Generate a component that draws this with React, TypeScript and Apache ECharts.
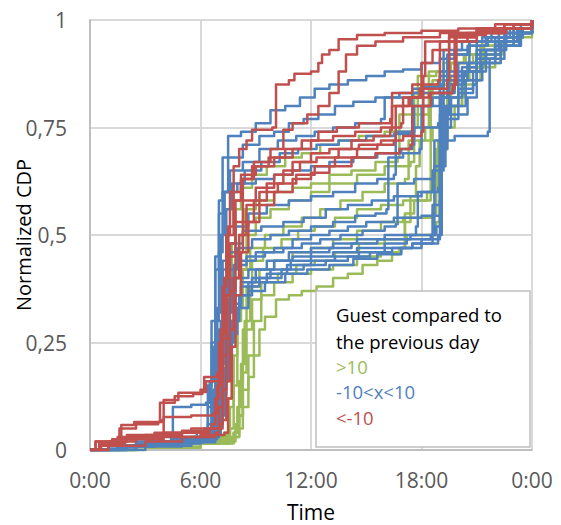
import React, { useEffect, useRef } from 'react';
import * as echarts from 'echarts';

const xTickLabels = ['0:00', '6:00', '12:00', '18:00', '0:00'];
const groupNames = ['>10', '-10<x<10', '<-10'];
const groupColors = ['#9BBB59', '#4F81BD', '#C0504D'];
const legendTitle = ['Guest compared to', 'the previous day'];

// ---- Green lines (>10) : [hour, normalized CDP]
const green1 = [[0,0],[1.5,0.01],[3.5,0.02],[5.5,0.03],[6.9,0.04],[7.1,0.1],[7.3,0.22],[7.5,0.36],[7.7,0.48],[7.9,0.56],[8.2,0.61],[8.8,0.64],[9.6,0.66],[10.6,0.68],[11.5,0.69],[12.5,0.71],[13.5,0.72],[14.6,0.73],[16,0.74],[17.6,0.75],[17.8,0.87],[18.8,0.88],[19.6,0.9],[20.4,0.92],[21.2,0.94],[22.2,0.95],[23.3,0.97],[24,1]];
const green2 = [[0,0],[2,0.01],[4.5,0.02],[6.5,0.03],[7.3,0.04],[7.5,0.12],[7.7,0.26],[7.9,0.4],[8.1,0.5],[8.4,0.56],[9,0.58],[10,0.6],[11,0.61],[12,0.62],[13,0.64],[14.2,0.65],[15.5,0.67],[16.7,0.68],[16.8,0.78],[18.4,0.8],[18.6,0.86],[19.2,0.9],[20.3,0.92],[21.3,0.95],[22.5,0.96],[23.4,0.98],[24,1]];
const green3 = [[0,0],[2.5,0.01],[5,0.02],[7,0.03],[7.6,0.05],[7.8,0.15],[8,0.3],[8.2,0.42],[8.5,0.5],[9,0.54],[9.8,0.56],[10.8,0.58],[12,0.6],[13,0.62],[14.5,0.64],[16,0.66],[17.4,0.67],[17.6,0.83],[18.5,0.85],[19.6,0.87],[20.5,0.89],[21.4,0.94],[22.6,0.96],[23.5,0.97],[24,1]];
const green4 = [[0,0],[2,0.01],[4,0.015],[6,0.025],[7.4,0.035],[7.6,0.1],[7.8,0.22],[8,0.33],[8.3,0.42],[8.7,0.47],[9.5,0.5],[10.5,0.52],[11.5,0.54],[12.5,0.56],[13.6,0.58],[14.8,0.6],[16,0.62],[17.1,0.63],[17.3,0.72],[18.2,0.75],[18.4,0.88],[19.5,0.9],[20.8,0.92],[22,0.95],[23.2,0.97],[24,1]];
const green5 = [[0,0],[3,0.01],[5.5,0.02],[7.5,0.03],[7.9,0.06],[8.1,0.16],[8.3,0.28],[8.5,0.38],[8.8,0.44],[9.4,0.47],[10.4,0.49],[11.3,0.51],[12.2,0.52],[13.3,0.54],[14.5,0.56],[15.8,0.57],[17,0.58],[18.3,0.6],[18.5,0.82],[19.5,0.86],[20.5,0.9],[21.5,0.92],[22.3,0.95],[23.3,0.97],[24,1]];
const green6 = [[0,0],[2.5,0.008],[5,0.015],[7,0.025],[7.8,0.04],[8,0.1],[8.2,0.2],[8.4,0.3],[8.7,0.38],[9.2,0.42],[10,0.44],[11,0.46],[12,0.47],[13.2,0.49],[14.5,0.51],[15.8,0.53],[17,0.54],[18.6,0.55],[18.8,0.7],[19.4,0.78],[19.6,0.86],[20.6,0.89],[21.3,0.92],[22.4,0.95],[23.2,0.97],[24,1]];
const green7 = [[0,0],[3,0.008],[6,0.02],[7.9,0.03],[8.1,0.08],[8.3,0.18],[8.5,0.28],[8.8,0.35],[9.3,0.39],[10.2,0.41],[11.2,0.43],[12.2,0.44],[13.3,0.46],[14.6,0.48],[16,0.49],[17.2,0.5],[18.8,0.53],[19,0.75],[19.8,0.8],[20.2,0.85],[21,0.89],[22,0.94],[23,0.96],[24,1]];
const green8 = [[0,0],[3,0.006],[6,0.015],[7.6,0.025],[7.8,0.04],[8.1,0.08],[8.3,0.14],[8.6,0.22],[8.9,0.3],[9.3,0.36],[10,0.39],[11,0.41],[12,0.42],[13.2,0.43],[14.5,0.45],[15.8,0.46],[16.9,0.47],[17.1,0.55],[17.6,0.58],[18.5,0.6],[18.9,0.72],[19.2,0.8],[20.2,0.86],[21.2,0.9],[22.3,0.94],[23.3,0.98],[24,1]];
const green9 = [[0,0],[3,0.005],[6,0.015],[7.8,0.03],[8.1,0.05],[8.3,0.1],[8.6,0.17],[8.9,0.22],[9.2,0.28],[9.5,0.31],[10.1,0.35],[10.8,0.36],[11.5,0.37],[12.3,0.38],[13.2,0.4],[14,0.41],[14.8,0.43],[15.6,0.44],[16.4,0.455],[16.8,0.47],[17.1,0.53],[17.4,0.59],[17.7,0.66],[17.9,0.72],[18.6,0.75],[19.4,0.82],[20.3,0.88],[21.2,0.92],[22.3,0.95],[23.3,0.97],[24,1]];

// ---- Blue lines (-10<x<10)
const blue1 = [[0,0],[1,0.008],[2.5,0.015],[4.5,0.025],[6.2,0.035],[6.4,0.1],[6.6,0.25],[6.8,0.42],[7,0.58],[7.2,0.68],[7.5,0.73],[8.2,0.74],[9,0.76],[9.8,0.79],[10.6,0.8],[11.4,0.82],[12.2,0.84],[13,0.85],[14,0.86],[15,0.87],[16,0.88],[17,0.885],[18,0.9],[19,0.91],[19.8,0.93],[20.6,0.95],[21.5,0.96],[22.5,0.97],[23.4,0.99],[24,1]];
const blue2 = [[0,0],[1.5,0.01],[3,0.02],[5,0.03],[6.4,0.04],[6.6,0.12],[6.8,0.3],[7,0.46],[7.2,0.6],[7.5,0.68],[8.3,0.71],[9.2,0.73],[10,0.74],[10.8,0.76],[11.6,0.77],[12.4,0.78],[13.3,0.8],[14.3,0.81],[15.5,0.82],[16.8,0.83],[18,0.845],[19.2,0.86],[19.4,0.92],[20.5,0.94],[21.5,0.96],[22.8,0.98],[24,1]];
const blue3 = [[0,0],[2,0.01],[4,0.02],[6,0.03],[6.5,0.04],[6.7,0.14],[6.9,0.32],[7.1,0.5],[7.3,0.6],[7.6,0.65],[8.3,0.67],[9.2,0.7],[10.2,0.72],[11.2,0.73],[12.2,0.74],[13.2,0.75],[14.4,0.76],[15.8,0.77],[16,0.82],[17.5,0.84],[19,0.85],[19.2,0.93],[20.2,0.95],[21.3,0.96],[22.6,0.98],[24,1]];
const blue4 = [[0,0],[1.5,0.008],[3.5,0.02],[5.5,0.03],[6.6,0.035],[6.8,0.12],[7,0.28],[7.2,0.44],[7.4,0.56],[7.7,0.62],[8.4,0.65],[9.3,0.67],[10.3,0.69],[11.3,0.7],[12.3,0.71],[13.5,0.72],[15,0.73],[16.5,0.735],[17.4,0.74],[17.5,0.83],[19,0.87],[20.4,0.88],[20.6,0.95],[21.8,0.97],[23,0.98],[24,1]];
const blue5 = [[0,0],[2,0.01],[4,0.018],[6.2,0.03],[6.6,0.04],[6.8,0.12],[7,0.24],[7.2,0.36],[7.5,0.46],[7.9,0.52],[8.6,0.55],[9.6,0.57],[10.8,0.58],[12,0.59],[13.2,0.6],[14.4,0.62],[15.6,0.63],[16.5,0.64],[16.6,0.74],[17.6,0.75],[18.9,0.76],[19,0.88],[20,0.9],[21,0.93],[22.2,0.96],[23.2,0.98],[24,1]];
const blue6 = [[0,0],[1,0.01],[2.5,0.02],[4.4,0.035],[4.5,0.1],[5.5,0.105],[6.3,0.11],[6.5,0.16],[6.7,0.24],[6.9,0.33],[7.2,0.42],[7.6,0.48],[8.3,0.51],[9.3,0.52],[10.5,0.53],[11.6,0.54],[12.8,0.56],[14,0.57],[15.3,0.58],[16.5,0.59],[18,0.6],[18.9,0.61],[19,0.78],[19.5,0.85],[20.3,0.88],[21.2,0.93],[22.2,0.95],[23.2,0.97],[24,1]];
const blue7 = [[0,0],[2,0.01],[4.5,0.02],[6.3,0.03],[6.7,0.04],[6.9,0.1],[7.1,0.2],[7.3,0.32],[7.6,0.42],[8,0.47],[8.8,0.49],[9.8,0.5],[10.8,0.51],[12,0.52],[13.2,0.53],[14.4,0.545],[15.5,0.55],[16.1,0.56],[16.2,0.68],[17,0.69],[17.9,0.7],[18,0.8],[19,0.82],[20,0.88],[21,0.91],[22,0.95],[23,0.97],[24,1]];
const blue8 = [[0,0],[2.5,0.01],[5,0.02],[6.5,0.03],[6.8,0.05],[7,0.12],[7.2,0.22],[7.4,0.32],[7.7,0.4],[8.1,0.44],[9,0.46],[10,0.47],[11,0.49],[12,0.5],[13,0.51],[14,0.52],[15,0.53],[16.5,0.54],[18,0.545],[19,0.55],[19.1,0.83],[19.8,0.86],[20.5,0.9],[21.5,0.93],[22.6,0.96],[23.5,0.98],[24,1]];
const blue9 = [[0,0],[2,0.01],[4.2,0.02],[6.1,0.03],[6.5,0.04],[6.7,0.1],[6.9,0.2],[7.1,0.3],[7.4,0.38],[7.8,0.43],[8.5,0.45],[9.5,0.46],[10.5,0.47],[11.5,0.48],[12.5,0.49],[13.6,0.5],[14.8,0.51],[16,0.52],[16.6,0.525],[16.7,0.62],[17.6,0.63],[18.6,0.65],[19.2,0.86],[20.2,0.89],[21,0.92],[22.3,0.95],[23.3,0.98],[24,1]];
const blue10 = [[0,0],[2,0.01],[4,0.015],[6,0.025],[6.6,0.035],[6.8,0.09],[7,0.18],[7.2,0.27],[7.5,0.35],[7.9,0.4],[8.6,0.42],[9.6,0.44],[10.8,0.46],[12,0.47],[13.2,0.48],[14.5,0.49],[16,0.5],[17.7,0.52],[17.8,0.6],[18.6,0.63],[18.7,0.72],[19.8,0.73],[21.6,0.74],[21.7,0.91],[22.5,0.94],[23.4,0.97],[24,1]];
const blue11 = [[0,0],[1.5,0.008],[3.5,0.016],[5.5,0.025],[6.9,0.035],[7.1,0.08],[7.3,0.16],[7.5,0.25],[7.8,0.33],[8.2,0.39],[9,0.42],[10,0.44],[11,0.45],[12,0.46],[13,0.47],[14.2,0.48],[15.6,0.49],[17.4,0.5],[18.8,0.52],[19,0.7],[19.3,0.8],[20,0.83],[20.8,0.85],[21,0.95],[22.2,0.97],[23.2,0.98],[24,1]];
const blue12 = [[0,0],[2.5,0.008],[5,0.018],[6.8,0.03],[7,0.06],[7.2,0.13],[7.4,0.21],[7.7,0.3],[8.1,0.36],[8.8,0.4],[9.8,0.42],[10.9,0.44],[12,0.45],[13.2,0.46],[14.5,0.47],[16,0.48],[17.2,0.49],[18.5,0.5],[18.6,0.57],[19,0.58],[19.1,0.77],[20,0.84],[20.8,0.88],[21.5,0.93],[22.5,0.96],[23.5,0.98],[24,1]];
const blue13 = [[0,0],[3,0.01],[5.5,0.02],[6.6,0.03],[6.8,0.07],[7,0.14],[7.2,0.22],[7.5,0.3],[7.9,0.36],[8.6,0.39],[9.6,0.41],[10.7,0.43],[12,0.44],[13.3,0.45],[14.6,0.46],[16,0.47],[17.5,0.48],[18.9,0.49],[19,0.75],[19.6,0.82],[20.2,0.88],[21,0.91],[22,0.96],[23,0.98],[24,1]];
const blue14 = [[0,0],[2,0.01],[4,0.02],[6.2,0.03],[6.4,0.06],[6.6,0.12],[6.8,0.2],[7.1,0.28],[7.5,0.34],[8.2,0.38],[9.2,0.4],[10.4,0.42],[11.6,0.43],[12.8,0.44],[14,0.45],[15.2,0.46],[16.4,0.47],[17.5,0.48],[18.6,0.5],[18.7,0.66],[19.3,0.7],[19.4,0.8],[20.4,0.86],[21.3,0.9],[22.3,0.94],[23.3,0.97],[24,1]];
const blue15 = [[0,0],[2.5,0.012],[5,0.022],[6.7,0.03],[6.9,0.05],[7.1,0.11],[7.3,0.19],[7.6,0.27],[8,0.33],[8.6,0.37],[9.5,0.39],[10.6,0.41],[11.8,0.42],[13,0.43],[14.3,0.445],[15.6,0.455],[16.9,0.47],[18,0.49],[18.9,0.5],[19.1,0.72],[19.4,0.78],[20.5,0.82],[21,0.9],[22,0.94],[23,0.97],[24,1]];
const blue16 = [[0,0],[1.5,0.01],[3.5,0.02],[5.8,0.04],[6.2,0.05],[6.4,0.15],[6.6,0.3],[6.8,0.45],[7,0.55],[7.3,0.6],[8,0.62],[9,0.63],[10,0.64],[11,0.65],[12,0.66],[13,0.67],[14.3,0.68],[15.6,0.69],[16.9,0.7],[17.5,0.71],[17.6,0.8],[18.6,0.82],[19.4,0.84],[19.5,0.92],[20.6,0.94],[21.6,0.96],[22.6,0.98],[24,1]];

// ---- Red lines (<-10)
const red1 = [[0,0],[0.3,0.02],[1.2,0.025],[2.5,0.03],[4,0.04],[5.5,0.05],[6.6,0.06],[6.8,0.12],[7,0.25],[7.2,0.38],[7.4,0.5],[7.6,0.6],[7.8,0.66],[8.1,0.7],[8.5,0.72],[8.8,0.745],[9.9,0.75],[10.1,0.85],[10.8,0.86],[11.1,0.875],[12,0.88],[12.4,0.9],[12.6,0.92],[13,0.93],[13.5,0.955],[14.5,0.965],[16,0.97],[18,0.975],[20,0.98],[22,0.99],[24,1]];
const red2 = [[0,0],[1,0.01],[3,0.02],[5,0.03],[6.8,0.04],[7,0.1],[7.2,0.22],[7.4,0.36],[7.6,0.48],[7.9,0.58],[8.3,0.63],[8.9,0.67],[9.8,0.7],[10.5,0.745],[11,0.76],[11.8,0.78],[12.4,0.8],[13,0.83],[13.5,0.88],[13.9,0.92],[14.5,0.94],[15.5,0.95],[17,0.96],[19,0.97],[21,0.98],[23,0.99],[24,1]];
const red3 = [[0,0],[0.5,0.01],[1.6,0.02],[1.7,0.058],[2.4,0.065],[3.9,0.07],[4,0.116],[4.8,0.133],[6,0.14],[6.2,0.17],[6.9,0.18],[7.1,0.28],[7.3,0.4],[7.5,0.5],[7.8,0.58],[8.2,0.63],[8.8,0.66],[9.7,0.68],[10.6,0.7],[11.5,0.72],[12.4,0.74],[13.4,0.75],[14.6,0.76],[16.3,0.77],[16.4,0.83],[17.5,0.85],[18.9,0.86],[19,0.95],[20.5,0.97],[22.5,0.98],[24,1]];
const red4 = [[0,0],[0.6,0.012],[1.5,0.015],[1.6,0.05],[2.5,0.06],[3.7,0.065],[3.8,0.11],[4.6,0.125],[5.6,0.13],[6.1,0.135],[6.3,0.16],[7,0.17],[7.2,0.26],[7.4,0.36],[7.6,0.45],[7.9,0.53],[8.3,0.58],[9,0.61],[10,0.64],[11,0.67],[12,0.69],[13,0.7],[14.2,0.72],[15.4,0.73],[16.3,0.745],[16.4,0.8],[17.3,0.82],[18.4,0.83],[19.7,0.84],[19.8,0.97],[21,0.98],[22.5,0.99],[24,1]];
const red5 = [[0,0],[1,0.015],[1.9,0.02],[2,0.035],[3.5,0.04],[5,0.045],[6.5,0.05],[7.2,0.07],[7.4,0.16],[7.6,0.28],[7.8,0.4],[8.1,0.5],[8.5,0.57],[9.2,0.6],[10.2,0.62],[11.2,0.64],[12.2,0.66],[13.3,0.68],[14.5,0.7],[15.6,0.71],[16.5,0.72],[16.6,0.8],[17.4,0.82],[17.9,0.84],[18,0.9],[18.6,0.93],[19.5,0.95],[21,0.97],[22.5,0.98],[24,1]];
const red6 = [[0,0],[0.3,0.02],[2,0.025],[4,0.03],[6,0.035],[7.3,0.04],[7.5,0.12],[7.7,0.24],[7.9,0.36],[8.2,0.46],[8.6,0.53],[9.2,0.57],[10,0.6],[11,0.63],[12,0.645],[13,0.66],[14.2,0.68],[15.5,0.69],[16.8,0.7],[17.4,0.71],[17.5,0.8],[18.5,0.83],[19.7,0.85],[19.9,0.96],[21,0.97],[22.6,0.98],[24,1]];
const red7 = [[0,0],[1,0.02],[2.5,0.03],[3.9,0.035],[4,0.077],[5.5,0.08],[6.7,0.085],[6.9,0.15],[7.1,0.27],[7.3,0.4],[7.5,0.52],[7.8,0.6],[8.2,0.64],[9,0.66],[10,0.68],[11,0.7],[12,0.72],[13.2,0.73],[14.4,0.74],[15.8,0.75],[16.9,0.76],[17,0.82],[18,0.84],[19.4,0.86],[19.5,0.96],[21,0.975],[22.5,0.99],[24,1]];
const red8 = [[0,0],[0.5,0.015],[1.5,0.03],[3,0.035],[5,0.04],[6.5,0.05],[7,0.06],[7.2,0.14],[7.4,0.26],[7.6,0.37],[7.9,0.46],[8.3,0.53],[8.9,0.58],[9.6,0.62],[10.5,0.65],[11.4,0.67],[12.3,0.68],[13.5,0.7],[14.6,0.71],[15.8,0.72],[17,0.73],[18,0.74],[18.1,0.87],[18.2,0.95],[19.5,0.965],[21.5,0.98],[23,0.99],[24,1]];

const greenLines = [green1, green2, green3, green4, green5, green6, green7, green8, green9];
const blueLines = [blue1, blue2, blue3, blue4, blue5, blue6, blue7, blue8, blue9, blue10, blue11, blue12, blue13, blue14, blue15, blue16];
const redLines = [red1, red2, red3, red4, red5, red6, red7, red8];

const FONT = '"Open Sans", "Noto Sans", sans-serif';

export default function App() {
  const ref = useRef<HTMLDivElement>(null);
  useEffect(() => {
    document.body.style.margin = '0';
    const chart = echarts.init(ref.current as HTMLDivElement, null, { renderer: 'svg' });
    const groups = [greenLines, blueLines, redLines];
    const series: any[] = [];
    groups.forEach((lines, gi) => {
      lines.forEach((pts) => {
        series.push({
          type: 'line',
          name: groupNames[gi],
          data: pts,
          step: 'end',
          showSymbol: false,
          symbol: 'none',
          silent: true,
          lineStyle: { width: 2.5, color: groupColors[gi], join: 'round' },
          itemStyle: { color: groupColors[gi] },
          emphasis: { disabled: true },
        });
      });
    });
    chart.setOption({
      animation: false,
      textStyle: { fontFamily: FONT },
      grid: { left: 90, right: 29, top: 20, bottom: 75, containLabel: false, outerBoundsMode: 'none' },
      xAxis: {
        type: 'value',
        min: 0,
        max: 24,
        interval: 6,
        name: 'Time',
        nameLocation: 'middle',
        nameGap: 51,
        nameMoveOverlap: false,
        nameTextStyle: { color: '#000', fontSize: 21, fontFamily: FONT },
        axisLine: { show: true, lineStyle: { color: '#BFBFBF', width: 2 } },
        axisTick: { show: false },
        axisLabel: {
          color: '#595959',
          fontSize: 21,
          fontFamily: FONT,
          margin: 19,
          formatter: (v: number) => xTickLabels[Math.round(v / 6)] ?? '',
        },
        splitLine: { show: true, lineStyle: { color: '#D9D9D9', width: 2 } },
      },
      yAxis: {
        type: 'value',
        min: 0,
        max: 1,
        interval: 0.25,
        name: 'Normalized CDP',
        nameLocation: 'middle',
        nameGap: 57,
        nameMoveOverlap: false,
        nameTextStyle: { color: '#000', fontSize: 20, fontFamily: FONT },
        axisLine: { show: true, lineStyle: { color: '#BFBFBF', width: 2 } },
        axisTick: { show: false },
        axisLabel: {
          color: '#595959',
          fontSize: 21,
          fontFamily: FONT,
          margin: 23,
          formatter: (v: number) => String(v).replace('.', ','),
        },
        splitLine: { show: true, lineStyle: { color: '#D9D9D9', width: 2 } },
      },
      legend: {
        show: true,
        orient: 'vertical',
        left: 331,
        top: 356,
        icon: 'none',
        itemWidth: 0,
        itemHeight: 20,
        itemGap: 6,
        padding: 0,
        selectedMode: false,
        z: 110,
        textStyle: { fontSize: 18.5, fontFamily: FONT },
        data: groupNames.map((n, i) => ({ name: n, textStyle: { color: groupColors[i] } })),
      },
      graphic: [
        {
          type: 'rect',
          z: 100,
          shape: { x: 316, y: 291, width: 214, height: 156 },
          style: { fill: '#FFFFFF', stroke: '#BFBFBF', lineWidth: 1.5 },
        },
        {
          type: 'text',
          z: 101,
          x: 336,
          y: 314,
          style: { text: legendTitle[0], font: `18.5px ${FONT}`, fill: '#000', verticalAlign: 'middle' },
        },
        {
          type: 'text',
          z: 101,
          x: 336,
          y: 341,
          style: { text: legendTitle[1], font: `18.5px ${FONT}`, fill: '#000', verticalAlign: 'middle' },
        },
      ],
      series,
    });
    return () => chart.dispose();
  }, []);
  return <div ref={ref} style={{ width: 561, height: 525 }} />;
}
